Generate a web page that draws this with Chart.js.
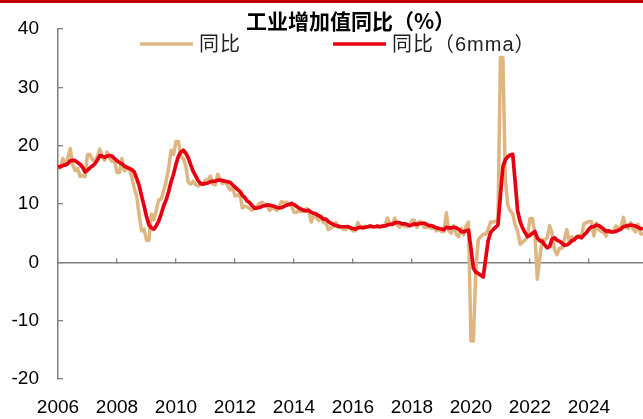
<!DOCTYPE html>
<html>
<head>
<meta charset="utf-8">
<script src="https://cdn.jsdelivr.net/npm/chart.js@4.4.1/dist/chart.umd.min.js"></script>
<style>
  html, body { margin: 0; padding: 0; background: #fff; }
  #wrap { position: relative; width: 643px; height: 419px; }
  #topbar { position: absolute; left: 0; top: 0; width: 643px; height: 3px; background: #c00000; }
</style>
</head>
<body>
<div id="wrap">
  <canvas id="chart" width="643" height="419"></canvas>
  <div id="topbar"></div>
</div>
<script>
// ==========================================================================
// 工业增加值同比（%） - monthly, Jan 2006 .. Nov 2025
// ==========================================================================

const startYear = 2006;

// 同比 (Jan shown with the Jan-Feb value)
const yoy = [
  16.2, 16.2, 17.8, 16.6, 17.9, 19.5, 16.7, 15.7, 16.1, 14.7, 14.9, 14.7, // 2006
  18.5, 18.5, 17.6, 17.4, 18.1, 19.4, 18.0, 17.5, 18.9, 17.9, 17.3, 17.4, // 2007
  15.4, 15.4, 17.8, 15.7, 16.0, 16.0, 14.7, 12.8, 11.4, 8.2, 5.4, 5.7,    // 2008
  3.8, 3.8, 8.3, 7.3, 8.9, 10.7, 10.8, 12.3, 13.9, 16.1, 19.2, 18.5,      // 2009
  20.7, 20.7, 18.1, 17.8, 16.5, 13.7, 13.4, 13.9, 13.3, 13.1, 13.3, 13.5, // 2010
  14.1, 14.1, 14.8, 13.4, 13.3, 15.1, 14.0, 13.5, 13.8, 13.2, 12.4, 12.8, // 2011
  11.4, 11.4, 11.9, 9.3, 9.6, 9.5, 9.2, 8.9, 9.2, 9.6, 10.1, 10.3,        // 2012
  9.9, 9.9, 8.9, 9.3, 9.2, 8.9, 9.7, 10.4, 10.2, 10.3, 10.0, 9.7,         // 2013
  8.6, 8.6, 8.8, 8.7, 8.8, 9.2, 9.0, 6.9, 8.0, 7.7, 7.2, 7.9,             // 2014
  6.8, 6.8, 5.6, 5.9, 6.1, 6.8, 6.0, 6.1, 5.7, 5.6, 6.2, 5.9,             // 2015
  5.4, 5.4, 6.8, 6.0, 6.0, 6.2, 6.0, 6.3, 6.1, 6.1, 6.2, 6.0,             // 2016
  6.3, 6.3, 7.6, 6.5, 6.5, 7.6, 6.4, 6.0, 6.6, 6.2, 6.1, 6.2,             // 2017
  7.2, 7.2, 6.0, 7.0, 6.8, 6.0, 6.0, 6.1, 5.8, 5.9, 5.4, 5.7,             // 2018
  5.3, 5.3, 8.5, 5.4, 5.0, 6.3, 4.8, 4.4, 5.8, 4.7, 6.2, 6.9,             // 2019
  -13.5, -13.5, -1.1, 3.9, 4.4, 4.8, 4.8, 5.6, 6.9, 6.9, 7.0, 7.3,        // 2020
  35.1, 35.1, 14.1, 9.8, 8.8, 8.3, 6.4, 5.3, 3.1, 3.5, 3.8, 4.3,          // 2021
  7.5, 7.5, 5.0, -2.9, 0.7, 3.9, 3.8, 4.2, 6.3, 5.0, 2.2, 1.3,            // 2022
  2.4, 2.4, 3.9, 5.6, 3.5, 4.4, 3.7, 4.5, 4.5, 4.6, 6.6, 6.8,             // 2023
  7.0, 7.0, 4.5, 6.7, 5.6, 5.3, 5.1, 4.5, 5.4, 5.3, 5.4, 6.2,             // 2024
  5.9, 5.9, 7.7, 6.1, 5.8, 6.8, 5.7, 5.2, 6.5, 4.9, 4.8                   // 2025
];

// 同比（6mma）
const yoy6mma = [
  16.3, 16.4, 16.6, 16.7, 16.9, 17.4, 17.5, 17.4, 17.1, 16.8, 16.3, 15.5, // 2006
  15.8, 16.2, 16.5, 16.9, 17.5, 18.3, 18.2, 18.0, 18.2, 18.3, 18.2, 17.8, // 2007
  17.4, 17.1, 16.9, 16.5, 16.3, 16.1, 15.9, 15.5, 14.4, 13.2, 11.4, 9.7,  // 2008
  7.9, 6.4, 5.9, 5.7, 6.3, 7.1, 8.3, 9.7, 10.7, 12.1, 13.8, 15.1,         // 2009
  16.8, 18.2, 18.9, 19.2, 18.7, 17.9, 16.7, 15.6, 14.8, 14.0, 13.5, 13.4, // 2010
  13.5, 13.6, 13.8, 13.9, 13.9, 14.1, 14.1, 14.0, 13.9, 13.8, 13.7, 13.3, // 2011
  12.9, 12.5, 12.2, 11.5, 11.1, 10.5, 10.2, 9.7, 9.3, 9.3, 9.4, 9.6,      // 2012
  9.7, 9.8, 9.8, 9.7, 9.6, 9.4, 9.3, 9.4, 9.6, 9.8, 9.9, 10.1,            // 2013
  9.9, 9.6, 9.3, 9.1, 8.9, 8.8, 8.9, 8.6, 8.4, 8.3, 8.0, 7.8,             // 2014
  7.4, 7.4, 7.0, 6.7, 6.5, 6.3, 6.2, 6.1, 6.1, 6.1, 6.1, 5.9,             // 2015
  5.8, 5.7, 5.9, 6.0, 5.9, 6.0, 6.1, 6.2, 6.1, 6.1, 6.2, 6.1,             // 2016
  6.2, 6.2, 6.4, 6.5, 6.5, 6.8, 6.8, 6.8, 6.6, 6.6, 6.5, 6.3,             // 2017
  6.4, 6.6, 6.5, 6.6, 6.7, 6.7, 6.5, 6.3, 6.3, 6.1, 5.9, 5.8,             // 2018
  5.7, 5.6, 6.0, 5.9, 5.9, 6.0, 5.9, 5.7, 5.3, 5.2, 5.4, 5.5,             // 2019
  2.4, -1.0, -1.7, -1.9, -2.2, -2.5, 0.6, 3.7, 5.1, 5.6, 6.0, 6.4,        // 2020
  11.5, 16.4, 17.6, 18.1, 18.4, 18.5, 13.8, 8.8, 7.0, 5.9, 5.1, 4.4,      // 2021
  4.6, 5.0, 5.3, 4.2, 3.7, 3.6, 3.0, 2.5, 2.7, 4.0, 4.2, 3.8,             // 2022
  3.6, 3.3, 2.9, 3.0, 3.2, 3.7, 3.9, 4.3, 4.4, 4.2, 4.7, 5.1,             // 2023
  5.7, 6.1, 6.1, 6.4, 6.3, 6.0, 5.7, 5.3, 5.4, 5.2, 5.2, 5.3,             // 2024
  5.5, 5.7, 6.1, 6.2, 6.3, 6.4, 6.3, 6.2, 6.0, 5.8, 5.7                   // 2025
];

const seriesNames = ['同比', '同比（6mma）'];
const chartTitle = '工业增加值同比（%）';
const yMin = -20, yMax = 40, yStep = 10;
const xStep = 2;

const TAN = '#DEB682';
const RED = '#E60012';
const AXIS = '#808080';
const LATIN = "'Liberation Sans', Arial, sans-serif";
const CJK = "'Liberation Sans', 'Noto Sans CJK SC', sans-serif";

const toPoints = arr => arr.map((v, i) => ({ x: startYear + i / 12, y: v }));
const xMax = startYear + (yoy.length - 1) / 12;

// legend drawn inside the plot, like the original
const legendPlugin = {
  id: 'insideLegend',
  afterDraw(chart) {
    const ctx = chart.ctx;
    const slots = [140, 333];
    ctx.save();
    ctx.font = '20px ' + CJK;
    ctx.textBaseline = 'middle';
    if ('letterSpacing' in ctx) ctx.letterSpacing = '1px';
    chart.data.datasets.forEach((ds, i) => {
      const x = slots[i], y = 44;
      ctx.strokeStyle = ds.borderColor;
      ctx.lineWidth = ds.borderWidth;
      ctx.beginPath();
      ctx.moveTo(x, y);
      ctx.lineTo(x + 53, y);
      ctx.stroke();
      ctx.fillStyle = '#222';
      ctx.fillText(ds.label, x + 59, y + 1);
    });
    ctx.restore();
  }
};

new Chart(document.getElementById('chart'), {
  type: 'line',
  data: {
    datasets: [
      { label: seriesNames[0], data: toPoints(yoy), borderColor: TAN, borderWidth: 3.5,
        pointRadius: 0, borderJoinStyle: 'round', order: 1 },
      { label: seriesNames[1], data: toPoints(yoy6mma), borderColor: RED, borderWidth: 3.7,
        pointRadius: 0, borderJoinStyle: 'round', order: 0 }
    ]
  },
  options: {
    responsive: false,
    animation: false,
    devicePixelRatio: 1,
    layout: { padding: 0 },
    plugins: {
      legend: { display: false },
      tooltip: { enabled: false },
      title: {
        display: true, text: chartTitle, fullSize: false, color: '#000',
        font: { family: "'Noto Sans CJK SC', sans-serif", size: 21, weight: 'bold', lineHeight: 0.76 },
        padding: { top: 13, bottom: 0 }
      }
    },
    scales: {
      x: {
        type: 'linear', min: startYear, max: xMax,
        grid: { display: false, drawTicks: false },
        border: { display: false },
        ticks: {
          stepSize: xStep, includeBounds: false, autoSkip: false, maxRotation: 0,
          callback: v => String(v), color: '#000', font: { family: LATIN, size: 19 }, padding: 17
        },
        afterFit: s => { s.height = 40; }
      },
      xZero: {
        type: 'linear', axis: 'x', position: { y: 0 }, min: startYear, max: xMax,
        ticks: { display: false, stepSize: xStep, includeBounds: false },
        grid: { drawOnChartArea: false, drawTicks: true, tickLength: -5, color: AXIS, lineWidth: 1.3 },
        border: { color: AXIS, width: 1.5 }
      },
      y: {
        min: yMin, max: yMax,
        ticks: { stepSize: yStep, color: '#000', font: { family: LATIN, size: 19 }, padding: 24 },
        grid: { drawOnChartArea: false, tickLength: -5, color: AXIS, lineWidth: 1.3 },
        border: { color: AXIS, width: 1.5 },
        afterFit: s => { s.width = 58; s.paddingTop = 12; s.paddingBottom = 12; }
      }
    }
  },
  plugins: [legendPlugin]
});
</script>
</body>
</html>
